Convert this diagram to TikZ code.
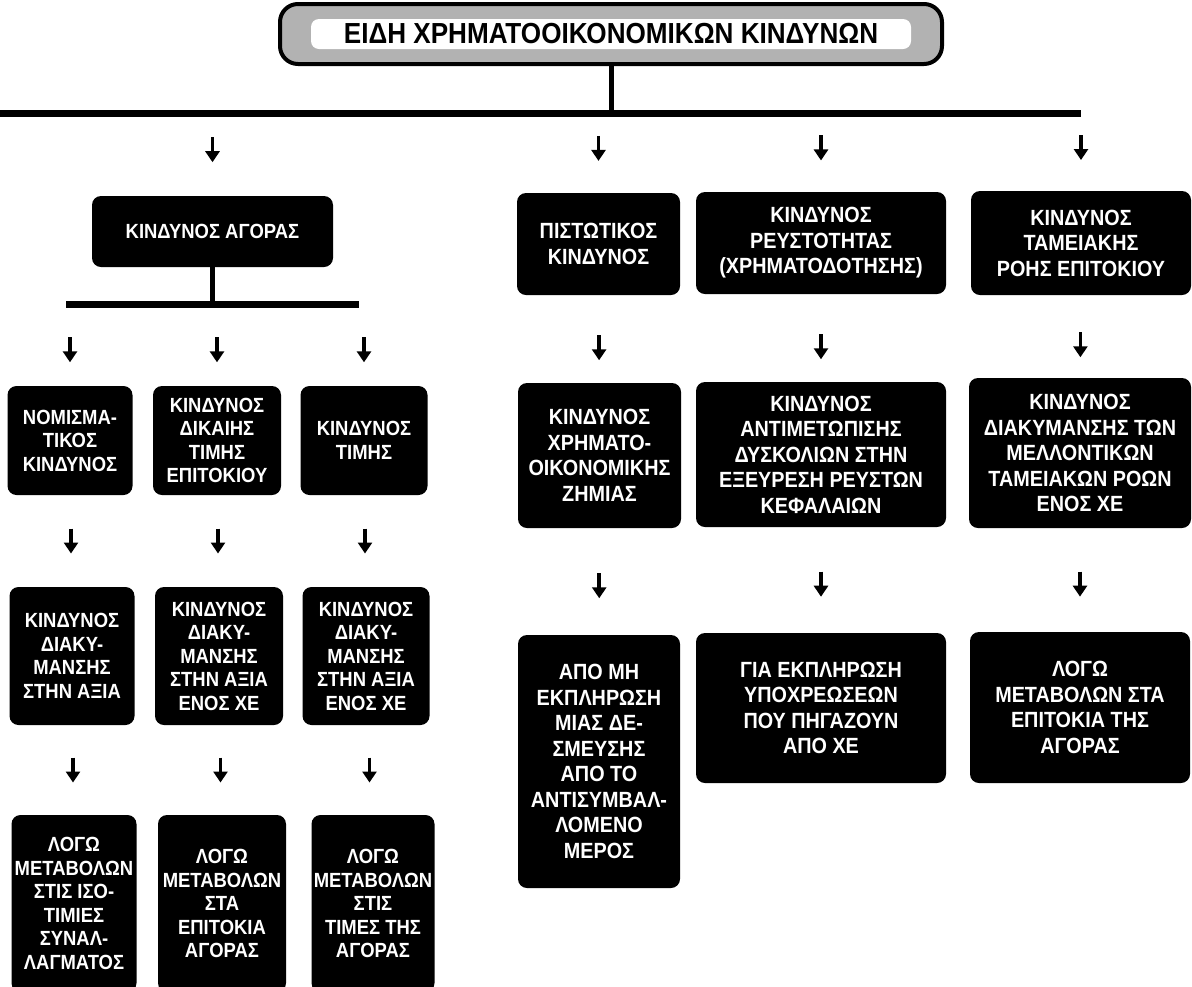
\documentclass[tikz,border=0pt]{standalone}
\usepackage{fontspec}
\setmainfont{Liberation Sans}
\newfontfamily\titlefont[FakeStretch=0.9]{Liberation Sans}
\newfontfamily\boxfont[FakeStretch=0.9]{Liberation Sans}
\usetikzlibrary{arrows.meta,calc}

\begin{document}
\begin{tikzpicture}[x=1pt,y=-1pt,
  box/.style={rectangle, rounded corners=9pt, fill=black, text=white,
    align=center, inner sep=0pt, font=\boxfont\bfseries\fontsize{20.5}{23.5}\selectfont},
  rbox/.style={box, font=\boxfont\bfseries\fontsize{22}{25.5}\selectfont},
  arr/.style={line width=3.6pt, -{Triangle[width=14pt,length=11pt]}},
  gap/.style={to path={($(\tikztostart)!#1!(\tikztotarget)+(0,-12.5)$)
    -- ($(\tikztostart)!#1!(\tikztotarget)+(0,12.5)$)}},
  gap/.default=0.5,
  bar/.style={line width=7pt},
  stem/.style={line width=5pt}
]
\useasboundingbox (0,0) rectangle (1192,986);

% title
\node[minimum width=662pt, minimum height=60pt, rounded corners=18pt,
  draw=black, line width=4pt, fill=gray!60] (title) at (611,34) {};
\node[fill=white, rounded corners=8pt, minimum width=600pt, minimum height=30pt,
  inner sep=0pt, font=\titlefont\bfseries\fontsize{29}{30}\selectfont]
  (titletext) at (title.center) {ΕΙΔΗ ΧΡΗΜΑΤΟΟΙΚΟΝΟΜΙΚΩΝ ΚΙΝΔΥΝΩΝ};

% first level
\node[box, minimum width=241pt, minimum height=71pt] (agora) at (212.5,231.5) {ΚΙΝΔΥΝΟΣ ΑΓΟΡΑΣ};
\node[rbox, minimum width=163pt, minimum height=102pt] (p1) at (598.5,244) {ΠΙΣΤΩΤΙΚΟΣ\\ΚΙΝΔΥΝΟΣ};
\node[rbox, minimum width=250pt, minimum height=102pt] (p2) at (821,243) {ΚΙΝΔΥΝΟΣ\\ΡΕΥΣΤΟΤΗΤΑΣ\\(ΧΡΗΜΑΤΟΔΟΤΗΣΗΣ)};
\node[rbox, minimum width=220pt, minimum height=104pt] (p3) at (1081,243) {ΚΙΝΔΥΝΟΣ\\ΤΑΜΕΙΑΚΗΣ\\ΡΟΗΣ ΕΠΙΤΟΚΙΟΥ};

% market risk branches
\node[box, minimum width=125pt, minimum height=109pt] (n1) at (70,440.5) {ΝΟΜΙΣΜΑ-\\ΤΙΚΟΣ\\ΚΙΝΔΥΝΟΣ};
\node[box, minimum width=128pt, minimum height=109pt] (n2) at (217,440.5) {ΚΙΝΔΥΝΟΣ\\ΔΙΚΑΙΗΣ\\ΤΙΜΗΣ\\ΕΠΙΤΟΚΙΟΥ};
\node[box, minimum width=127pt, minimum height=109pt] (n3) at (364,440.5) {ΚΙΝΔΥΝΟΣ\\ΤΙΜΗΣ};

\node[box, minimum width=125pt, minimum height=138pt] (m1) at (72,656) {ΚΙΝΔΥΝΟΣ\\ΔΙΑΚΥ-\\ΜΑΝΣΗΣ\\ΣΤΗΝ ΑΞΙΑ};
\node[box, minimum width=128pt, minimum height=138pt] (m2) at (219,656) {ΚΙΝΔΥΝΟΣ\\ΔΙΑΚΥ-\\ΜΑΝΣΗΣ\\ΣΤΗΝ ΑΞΙΑ\\ΕΝΟΣ ΧΕ};
\node[box, minimum width=127pt, minimum height=138pt] (m3) at (366,656) {ΚΙΝΔΥΝΟΣ\\ΔΙΑΚΥ-\\ΜΑΝΣΗΣ\\ΣΤΗΝ ΑΞΙΑ\\ΕΝΟΣ ΧΕ};

\node[box, minimum width=125pt, minimum height=177pt] (l1) at (74,903.5) {ΛΟΓΩ\\ΜΕΤΑΒΟΛΩΝ\\ΣΤΙΣ ΙΣΟ-\\ΤΙΜΙΕΣ\\ΣΥΝΑΛ-\\ΛΑΓΜΑΤΟΣ};
\node[box, minimum width=128pt, minimum height=177pt] (l2) at (222,903.5) {ΛΟΓΩ\\ΜΕΤΑΒΟΛΩΝ\\ΣΤΑ\\ΕΠΙΤΟΚΙΑ\\ΑΓΟΡΑΣ};
\node[box, minimum width=123pt, minimum height=177pt] (l3) at (373,903.5) {ΛΟΓΩ\\ΜΕΤΑΒΟΛΩΝ\\ΣΤΙΣ\\ΤΙΜΕΣ ΤΗΣ\\ΑΓΟΡΑΣ};

% credit, liquidity and cash-flow branches
\node[rbox, minimum width=163pt, minimum height=145pt] (q1) at (599.5,455.5) {ΚΙΝΔΥΝΟΣ\\ΧΡΗΜΑΤΟ-\\ΟΙΚΟΝΟΜΙΚΗΣ\\ΖΗΜΙΑΣ};
\node[rbox, minimum width=250pt, minimum height=145pt] (q2) at (821,454.5) {ΚΙΝΔΥΝΟΣ\\ΑΝΤΙΜΕΤΩΠΙΣΗΣ\\ΔΥΣΚΟΛΙΩΝ ΣΤΗΝ\\ΕΞΕΥΡΕΣΗ ΡΕΥΣΤΩΝ\\ΚΕΦΑΛΑΙΩΝ};
\node[rbox, minimum width=222pt, minimum height=150pt] (q3) at (1080,453) {ΚΙΝΔΥΝΟΣ\\ΔΙΑΚΥΜΑΝΣΗΣ ΤΩΝ\\ΜΕΛΛΟΝΤΙΚΩΝ\\ΤΑΜΕΙΑΚΩΝ ΡΟΩΝ\\ΕΝΟΣ ΧΕ};

\node[rbox, minimum width=162pt, minimum height=253pt] (r1) at (599,761.5) {ΑΠΟ ΜΗ\\ΕΚΠΛΗΡΩΣΗ\\ΜΙΑΣ ΔΕ-\\ΣΜΕΥΣΗΣ\\ΑΠΟ ΤΟ\\ΑΝΤΙΣΥΜΒΑΛ-\\ΛΟΜΕΝΟ\\ΜΕΡΟΣ};
\node[rbox, minimum width=250pt, minimum height=150pt] (r2) at (821,708) {ΓΙΑ ΕΚΠΛΗΡΩΣΗ\\ΥΠΟΧΡΕΩΣΕΩΝ\\ΠΟΥ ΠΗΓΑΖΟΥΝ\\ΑΠΟ ΧΕ};
\node[rbox, minimum width=220pt, minimum height=151pt] (r3) at (1080,707.5) {ΛΟΓΩ\\ΜΕΤΑΒΟΛΩΝ ΣΤΑ\\ΕΠΙΤΟΚΙΑ ΤΗΣ\\ΑΓΟΡΑΣ};

% main bar under the title
\coordinate (barL) at (0,113.5);
\coordinate (barR) at (p3.center |- barL);
\draw[stem] (title.south) -- (title.south |- barL);
\draw[bar] (barL) -- (barR);

% bar under market risk
\coordinate (abar) at (agora.south |- 0,304);
\draw[stem] (agora.south) -- (abar);
\draw[bar] ($(n1.center |- abar)+(-4,0)$) -- ($(n3.center |- abar)+(-5,0)$);

% arrows
\foreach \b in {agora,p1,p2,p3}
  \draw[arr] (\b.north |- barL) to[gap=0.44] (\b.north);
\foreach \b in {n1,n2,n3}
  \draw[arr] (\b.north |- abar) to[gap=0.56] (\b.north);
\foreach \a/\b in {n1/m1,n2/m2,n3/m3,m1/l1,m2/l2,m3/l3}
  \draw[arr] (\a.south) to[gap] (\b.north);
\foreach \a/\b in {p1/q1,p2/q2,p3/q3}
  \draw[arr] (\a.south) to[gap=0.6] (\b.north);
\foreach \a/\b in {q1/r1,q2/r2,q3/r3}
  \draw[arr] (\a.south) to[gap=0.54] (\b.north);
\end{tikzpicture}
\end{document}
